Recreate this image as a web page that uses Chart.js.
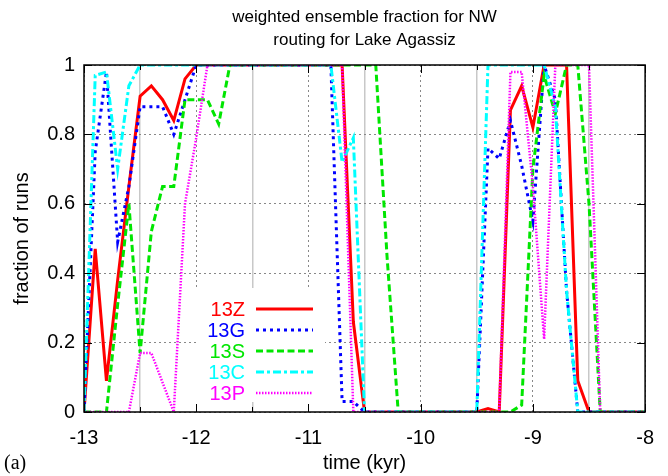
<!DOCTYPE html>
<html>
<head>
<meta charset="utf-8">
<title>weighted ensemble fraction for NW routing</title>
<script src="https://cdn.jsdelivr.net/npm/chart.js@4.4.0/dist/chart.umd.min.js"></script>
<style>
  body { margin: 0; background: #fff; }
</style>
</head>
<body>
<canvas id="myChart" width="668" height="476"></canvas>
<script>
// time axis (kyr), one sample every 0.1 kyr
var times = [-13.0, -12.9, -12.8, -12.7, -12.6, -12.5, -12.4, -12.3, -12.2, -12.1,
             -12.0, -11.9, -11.8, -11.7, -11.6, -11.5, -11.4, -11.3, -11.2, -11.1,
             -11.0, -10.9, -10.8, -10.7, -10.6, -10.5, -10.4, -10.3, -10.2, -10.1,
             -10.0, -9.9, -9.8, -9.7, -9.6, -9.5, -9.4, -9.3, -9.2, -9.1,
             -9.0, -8.9, -8.8, -8.7, -8.6, -8.5, -8.4, -8.3, -8.2, -8.1, -8.0];

var runs13Z = [0, 0.47, 0.09, 0.38, 0.65, 0.91, 0.94, 0.90, 0.84, 0.96,
               1, 1, 1, 1, 1, 1, 1, 1, 1, 1,
               1, 1, 1, 1, 0.26, 0, 0, 0, 0, 0,
               0, 0, 0, 0, 0, 0, 0.01, 0, 0.87, 0.94,
               0.82, 1, 1, 1, 0.09, 0, 0, 0, 0, 0, 0];

var runs13G = [0, 0.75, 0.98, 0.49, 0.65, 0.88, 0.88, 0.88, 0.80, 0.90,
               1, 1, 1, 1, 1, 1, 1, 1, 1, 1,
               1, 1, 1, 0.03, 0.03, 0, 0, 0, 0, 0,
               0, 0, 0, 0, 0, 0, 0.76, 0.73, 0.84, 0.71,
               0.55, 1, 0.90, 0.35, 0, 0, 0, 0, 0, 0, 0];

var runs13S = [0, 0, 0, 0.31, 0.60, 0.17, 0.52, 0.65, 0.65, 0.90,
               0.90, 0.90, 0.83, 1, 1, 1, 1, 1, 1, 1,
               1, 1, 1, 1, 1, 1, 1, 0.45, 0, 0,
               0, 0, 0, 0, 0, 0, 0, 0, 0, 0.02,
               0.70, 0.97, 0.86, 1, 1, 0.6, 0, 0, 0, 0, 0];

var runs13C = [0, 0.97, 0.98, 0.70, 0.94, 1, 1, 1, 1, 1,
               1, 1, 1, 1, 1, 1, 1, 1, 1, 1,
               1, 1, 1, 0.72, 0.79, 0, 0, 0, 0, 0,
               0, 0, 0, 0, 0, 0, 1, 1, 1, 1,
               1, 1, 0.88, 0.35, 0, 0, 0, 0, 0, 0, 0];

var runs13P = [0, 0, 0, 0, 0, 0.17, 0.17, 0.085, 0, 0.6,
               0.79, 1, 1, 1, 1, 1, 1, 1, 1, 1,
               1, 1, 1, 1, 0, 0, 0, 0, 0, 0,
               0, 0, 0, 0, 0, 0, 0, 0, 0.98, 0.98,
               0.65, 0.21, 1, 1, 1, 1, 0, 0, 0, 0, 0];

var yTicks = [0, 0.2, 0.4, 0.6, 0.8, 1];

var FONT = "'Liberation Sans', Arial, sans-serif";

function pts(vals) {
    return times.map(function (t, i) { return {x: t, y: vals[i]}; });
}

function isWhole(v) {
    return Math.abs(v - Math.round(v)) < 1e-6;
}

var datasets = [
    {label: '13Z', data: pts(runs13Z), borderColor: '#ff0000', borderWidth: 3, borderDash: [], order: 5},
    {label: '13G', data: pts(runs13G), borderColor: '#0000ff', borderWidth: 3, borderDash: [3, 4], order: 4},
    {label: '13S', data: pts(runs13S), borderColor: '#00e600', borderWidth: 3, borderDash: [7, 3.5], order: 3},
    {label: '13C', data: pts(runs13C), borderColor: '#00ffff', borderWidth: 3, borderDash: [8, 3, 3, 3], order: 2},
    {label: '13P', data: pts(runs13P), borderColor: '#ff00ff', borderWidth: 2.5, borderDash: [1.5, 1.5], order: 1}
];
datasets.forEach(function (d) {
    d.pointRadius = 0;
    d.tension = 0;
    d.fill = false;
    d.borderCapStyle = 'butt';
});

// white key box, border, inward ticks, key, title
var decor = {
    id: 'decor',
    beforeDatasetsDraw: function (chart) {
        var ctx = chart.ctx;
        ctx.save();
        ctx.fillStyle = '#fff';
        ctx.fillRect(196, 288, 129, 114);
        ctx.restore();
    },
    afterDraw: function (chart) {
        var ctx = chart.ctx;
        var a = chart.chartArea;
        var xs = chart.scales.x, ys = chart.scales.y;
        ctx.save();

        // ticks pointing inward
        ctx.strokeStyle = '#000';
        ctx.lineWidth = 1;
        ctx.beginPath();
        xs.ticks.forEach(function (t) {
            var px = Math.round(xs.getPixelForValue(t.value)) + 0.5;
            var len = isWhole(t.value) ? 8 : 5;
            ctx.moveTo(px, a.bottom); ctx.lineTo(px, a.bottom - len);
            ctx.moveTo(px, a.top); ctx.lineTo(px, a.top + len);
        });
        yTicks.forEach(function (v) {
            var py = Math.round(ys.getPixelForValue(v)) + 0.5;
            ctx.moveTo(a.left, py); ctx.lineTo(a.left + 8, py);
            ctx.moveTo(a.right, py); ctx.lineTo(a.right - 8, py);
        });
        ctx.stroke();

        // frame
        ctx.lineWidth = 1.5;
        ctx.strokeRect(a.left, a.top, a.right - a.left, a.bottom - a.top);

        // key
        ctx.font = '20px ' + FONT;
        ctx.textAlign = 'right';
        ctx.textBaseline = 'middle';
        chart.data.datasets.forEach(function (d, i) {
            var y = 309 + i * 21;
            ctx.fillStyle = d.borderColor;
            ctx.fillText(d.label, 245, y + 1);
            ctx.strokeStyle = d.borderColor;
            ctx.lineWidth = d.borderWidth;
            ctx.setLineDash(d.borderDash);
            ctx.beginPath();
            ctx.moveTo(256, y);
            ctx.lineTo(313, y);
            ctx.stroke();
        });
        ctx.setLineDash([]);

        // title
        ctx.fillStyle = '#000';
        ctx.textAlign = 'center';
        ctx.font = '17px ' + FONT;
        var cx = (a.left + a.right) / 2;
        ctx.fillText('weighted ensemble fraction for NW', cx, 17);
        ctx.fillText('routing for Lake Agassiz', cx, 40);

        // panel letter
        ctx.font = "20px 'Liberation Serif', 'Times New Roman', serif";
        ctx.textAlign = 'left';
        ctx.fillText('(a)', 4, 464);
        ctx.restore();
    }
};

new Chart(document.getElementById('myChart'), {
    type: 'line',
    data: {datasets: datasets},
    plugins: [decor],
    options: {
        responsive: false,
        animation: false,
        devicePixelRatio: 1,
        layout: {padding: {top: 65, right: 11, left: 0, bottom: 0}},
        plugins: {
            legend: {display: false},
            tooltip: {enabled: false},
            title: {display: false}
        },
        scales: {
            x: {
                type: 'linear', position: 'bottom', min: -13, max: -8,
                ticks: {
                    stepSize: 0.5, autoSkip: false, maxRotation: 0, padding: 14,
                    color: '#000', font: {family: FONT, size: 20},
                    callback: function (v) { return isWhole(v) ? String(Math.round(v)) : ''; }
                },
                grid: {
                    drawTicks: false, lineWidth: 1.5,
                    color: function (c) { return (c.tick && !isWhole(c.tick.value)) ? '#c8c8c8' : 'rgba(0,0,0,0)'; }
                },
                border: {display: false},
                title: {display: true, text: 'time (kyr)', color: '#000',
                        font: {family: FONT, size: 20}, padding: {top: 0, bottom: 1}},
                afterFit: function (s) { s.height = 64; }
            },
            xg: {
                type: 'linear', position: 'bottom', min: -13, max: -8,
                ticks: {display: false, stepSize: 1},
                grid: {drawTicks: false, color: '#888', lineWidth: 1},
                border: {display: false, dash: [2, 3]},
                afterFit: function (s) { s.height = 0; }
            },
            y: {
                min: 0, max: 1,
                ticks: {
                    stepSize: 0.2, padding: 9, color: '#000', font: {family: FONT, size: 20},
                    callback: function (v) { return String(Math.round(v * 10) / 10); }
                },
                grid: {drawTicks: false, color: '#888', lineWidth: 1},
                border: {display: false, dash: [2, 3]},
                title: {display: true, text: 'fraction of runs', color: '#000',
                        font: {family: FONT, size: 20}, padding: {top: 10, bottom: 0}},
                afterFit: function (s) { s.width = 84; }
            }
        }
    }
});
</script>
</body>
</html>
